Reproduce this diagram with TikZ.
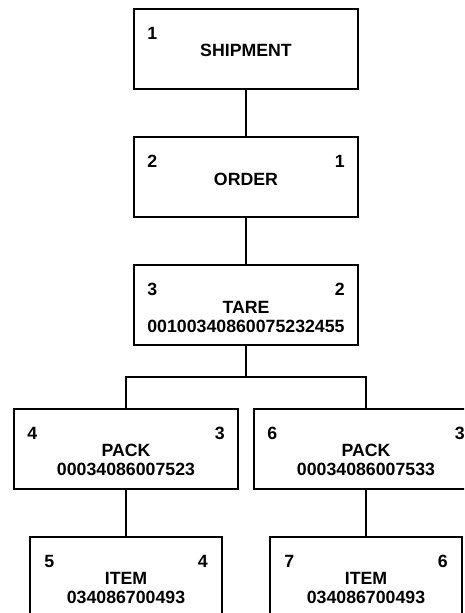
\documentclass[tikz,border=0pt]{standalone}
\usepackage{fontspec}
\setmainfont{Liberation Sans}
\usetikzlibrary{positioning,calc}
\tikzset{
  level/.style={rectangle,draw,line width=1.9pt,minimum width=168pt,
    minimum height=60pt,inner sep=0pt,outer sep=0pt},
  levelS/.style={level,minimum width=144pt},
  leveltext/.style={font=\fontsize{13.3}{14.2}\selectfont\bfseries,align=center,inner sep=0pt},
  levelno/.style={font=\fontsize{13.3}{14.2}\selectfont\bfseries,inner sep=0pt},
  link/.style={line width=1.7pt}
}
\begin{document}
\begin{tikzpicture}[x=0.75pt,y=0.75pt]
  \useasboundingbox (0,0) rectangle (464,-613);
  \clip (0,0) rectangle (464,-613);
  % boxes
  \node[level] (ship) at (246,-49) {};
  \node[level] (order) at (246,-177) {};
  \node[level] (tare) at (246,-305) {};
  \node[level] (packA) at (126,-449) {};
  \node[level] (packB) at (366,-449) {};
  \node[levelS] (itemA) at (126,-577) {};
  \node[levelS] (itemB) at (366,-577) {};
  % texts
  \node[leveltext,below=26.5pt of ship.north] (shipT) {SHIPMENT};
  \node[leveltext,below=27pt of order.north] (orderT) {ORDER};
  \node[leveltext,below=27pt of tare.north] (tareT) {TARE\\00100340860075232455};
  \node[leveltext,below=26.5pt of packA.north] (packAT) {PACK\\00034086007523};
  \node[leveltext,below=26.5pt of packB.north] (packBT) {PACK\\00034086007533};
  \node[leveltext,below=26.5pt of itemA.north] (itemAT) {ITEM\\034086700493};
  \node[leveltext,below=26.5pt of itemB.north] (itemBT) {ITEM\\034086700493};
  % sequence numbers
  \node[levelno,below right=13.5pt and 9.75pt of ship.north west] (shipL) {1};
  \node[levelno,below right=13.5pt and 9.75pt of order.north west] (orderL) {2};
  \node[levelno,below left=13.5pt and 9.75pt of order.north east] (orderR) {1};
  \node[levelno,below right=13.5pt and 9.75pt of tare.north west] (tareL) {3};
  \node[levelno,below left=13.5pt and 9.75pt of tare.north east] (tareR) {2};
  \node[levelno,below right=13.5pt and 9.75pt of packA.north west] (packAL) {4};
  \node[levelno,below left=13.5pt and 9.75pt of packA.north east] (packAR) {3};
  \node[levelno,below right=13.5pt and 9.75pt of packB.north west] (packBL) {6};
  \node[levelno,below left=13.5pt and 9.75pt of packB.north east] (packBR) {3};
  \node[levelno,below right=13.5pt and 10.5pt of itemA.north west] (itemAL) {5};
  \node[levelno,below left=13.5pt and 10.5pt of itemA.north east] (itemAR) {4};
  \node[levelno,below right=13.5pt and 10.5pt of itemB.north west] (itemBL) {7};
  \node[levelno,below left=13.5pt and 10.5pt of itemB.north east] (itemBR) {6};
  % connectors
  \coordinate (fork) at ($(tare.south)!0.5!(tare.south|-packA.north)$);
  \draw[link] (ship.south) -- (order.north);
  \draw[link] (order.south) -- (tare.north);
  \draw[link] (tare.south) -- (fork);
  \draw[link] (fork) -| (packA.north);
  \draw[link] (fork) -| (packB.north);
  \draw[link] (packA.south) -- (itemA.north);
  \draw[link] (packB.south) -- (itemB.north);
\end{tikzpicture}
\end{document}
